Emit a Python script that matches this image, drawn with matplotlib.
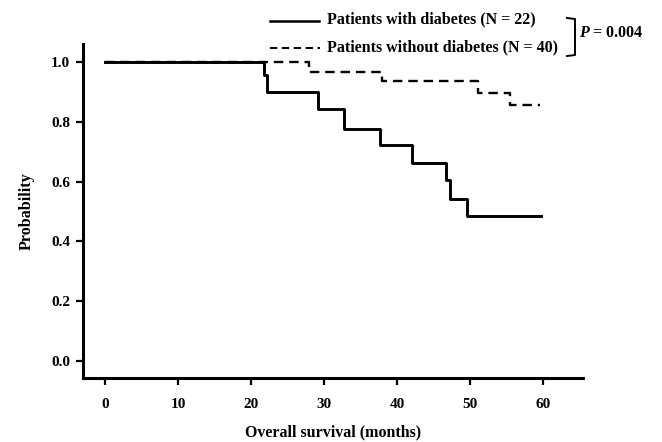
import matplotlib
matplotlib.use("Agg")
import matplotlib.pyplot as plt
from matplotlib.lines import Line2D

# Kaplan-Meier steps (months, survival probability)
diab_months = [0, 21.8, 22.2, 29.2, 32.8, 37.6, 42.1, 46.7, 47.2, 49.6, 59.7]
diab_surv = [1.0, 0.955, 0.900, 0.842, 0.777, 0.722, 0.663, 0.605, 0.541, 0.484, 0.484]

nodiab_months = [0, 27.9, 38.0, 51.1, 55.5, 59.6]
nodiab_surv = [1.0, 0.967, 0.935, 0.896, 0.855, 0.855]

x_ticks = [0, 10, 20, 30, 40, 50, 60]
y_ticks = [0.0, 0.2, 0.4, 0.6, 0.8, 1.0]

label_diab = "Patients with diabetes (N = 22)"
label_nodiab = "Patients without diabetes (N = 40)"
p_text = r"$\it{P}$ = 0.004"

plt.rcParams["font.family"] = ["Liberation Serif", "DejaVu Serif"]
plt.rcParams["font.weight"] = "bold"
plt.rcParams["mathtext.fontset"] = "custom"
plt.rcParams["mathtext.it"] = "Liberation Serif:italic:bold"

fig = plt.figure(figsize=(6.62, 4.42), dpi=100)
ax = fig.add_axes([0.125, 0.144, 0.756, 0.756])

ax.step(nodiab_months, nodiab_surv, where="post", color="black", lw=1.7,
        linestyle=(0, (4, 2.5)))
ax.step(diab_months, diab_surv, where="post", color="black", lw=2.1)

ax.set_xlim(-3.05, 65.5)
ax.set_ylim(-0.058, 1.059)
ax.set_xticks(x_ticks)
ax.set_yticks(y_ticks)
ax.set_xticklabels([str(t) for t in x_ticks], fontsize=11, fontweight="bold")
ax.set_yticklabels(["%.1f" % t for t in y_ticks], fontsize=11, fontweight="bold")
ax.tick_params(direction="out", length=5, width=1.6, pad=4)
ax.tick_params(axis="x", pad=9)

for side in ["top", "right"]:
    ax.spines[side].set_visible(False)
for side in ["left", "bottom"]:
    ax.spines[side].set_linewidth(2.2)

ax.set_xlabel("Overall survival (months)", fontsize=11.5, fontweight="bold", labelpad=10)
ax.set_ylabel("Probability", fontsize=11.5, fontweight="bold", labelpad=12)

# legend drawn by hand, in figure pixels converted to fractions
W, H = 662.0, 442.0
def fx(px):
    return px / W
def fy(py):
    return 1 - py / H

fig.add_artist(Line2D([fx(270), fx(319)], [fy(20.5), fy(20.5)], color="black", lw=1.8,
                      transform=fig.transFigure))
fig.add_artist(Line2D([fx(270), fx(320)], [fy(47.5), fy(47.5)], color="black", lw=1.5,
                      linestyle=(0, (3.5, 2.2)), transform=fig.transFigure))
fig.text(fx(327), fy(19), label_diab, fontsize=11.5, fontweight="bold", va="center")
fig.text(fx(327), fy(47), label_nodiab, fontsize=11.5, fontweight="bold", va="center")

# bracket joining the two groups
fig.add_artist(Line2D([fx(567), fx(575), fx(575), fx(567)],
                      [fy(18), fy(19), fy(55), fy(56)], color="black", lw=1.4,
                      transform=fig.transFigure))
fig.text(fx(579), fy(33), p_text, fontsize=11.5, fontweight="bold", va="center")

fig.savefig("out.png", dpi=100)
